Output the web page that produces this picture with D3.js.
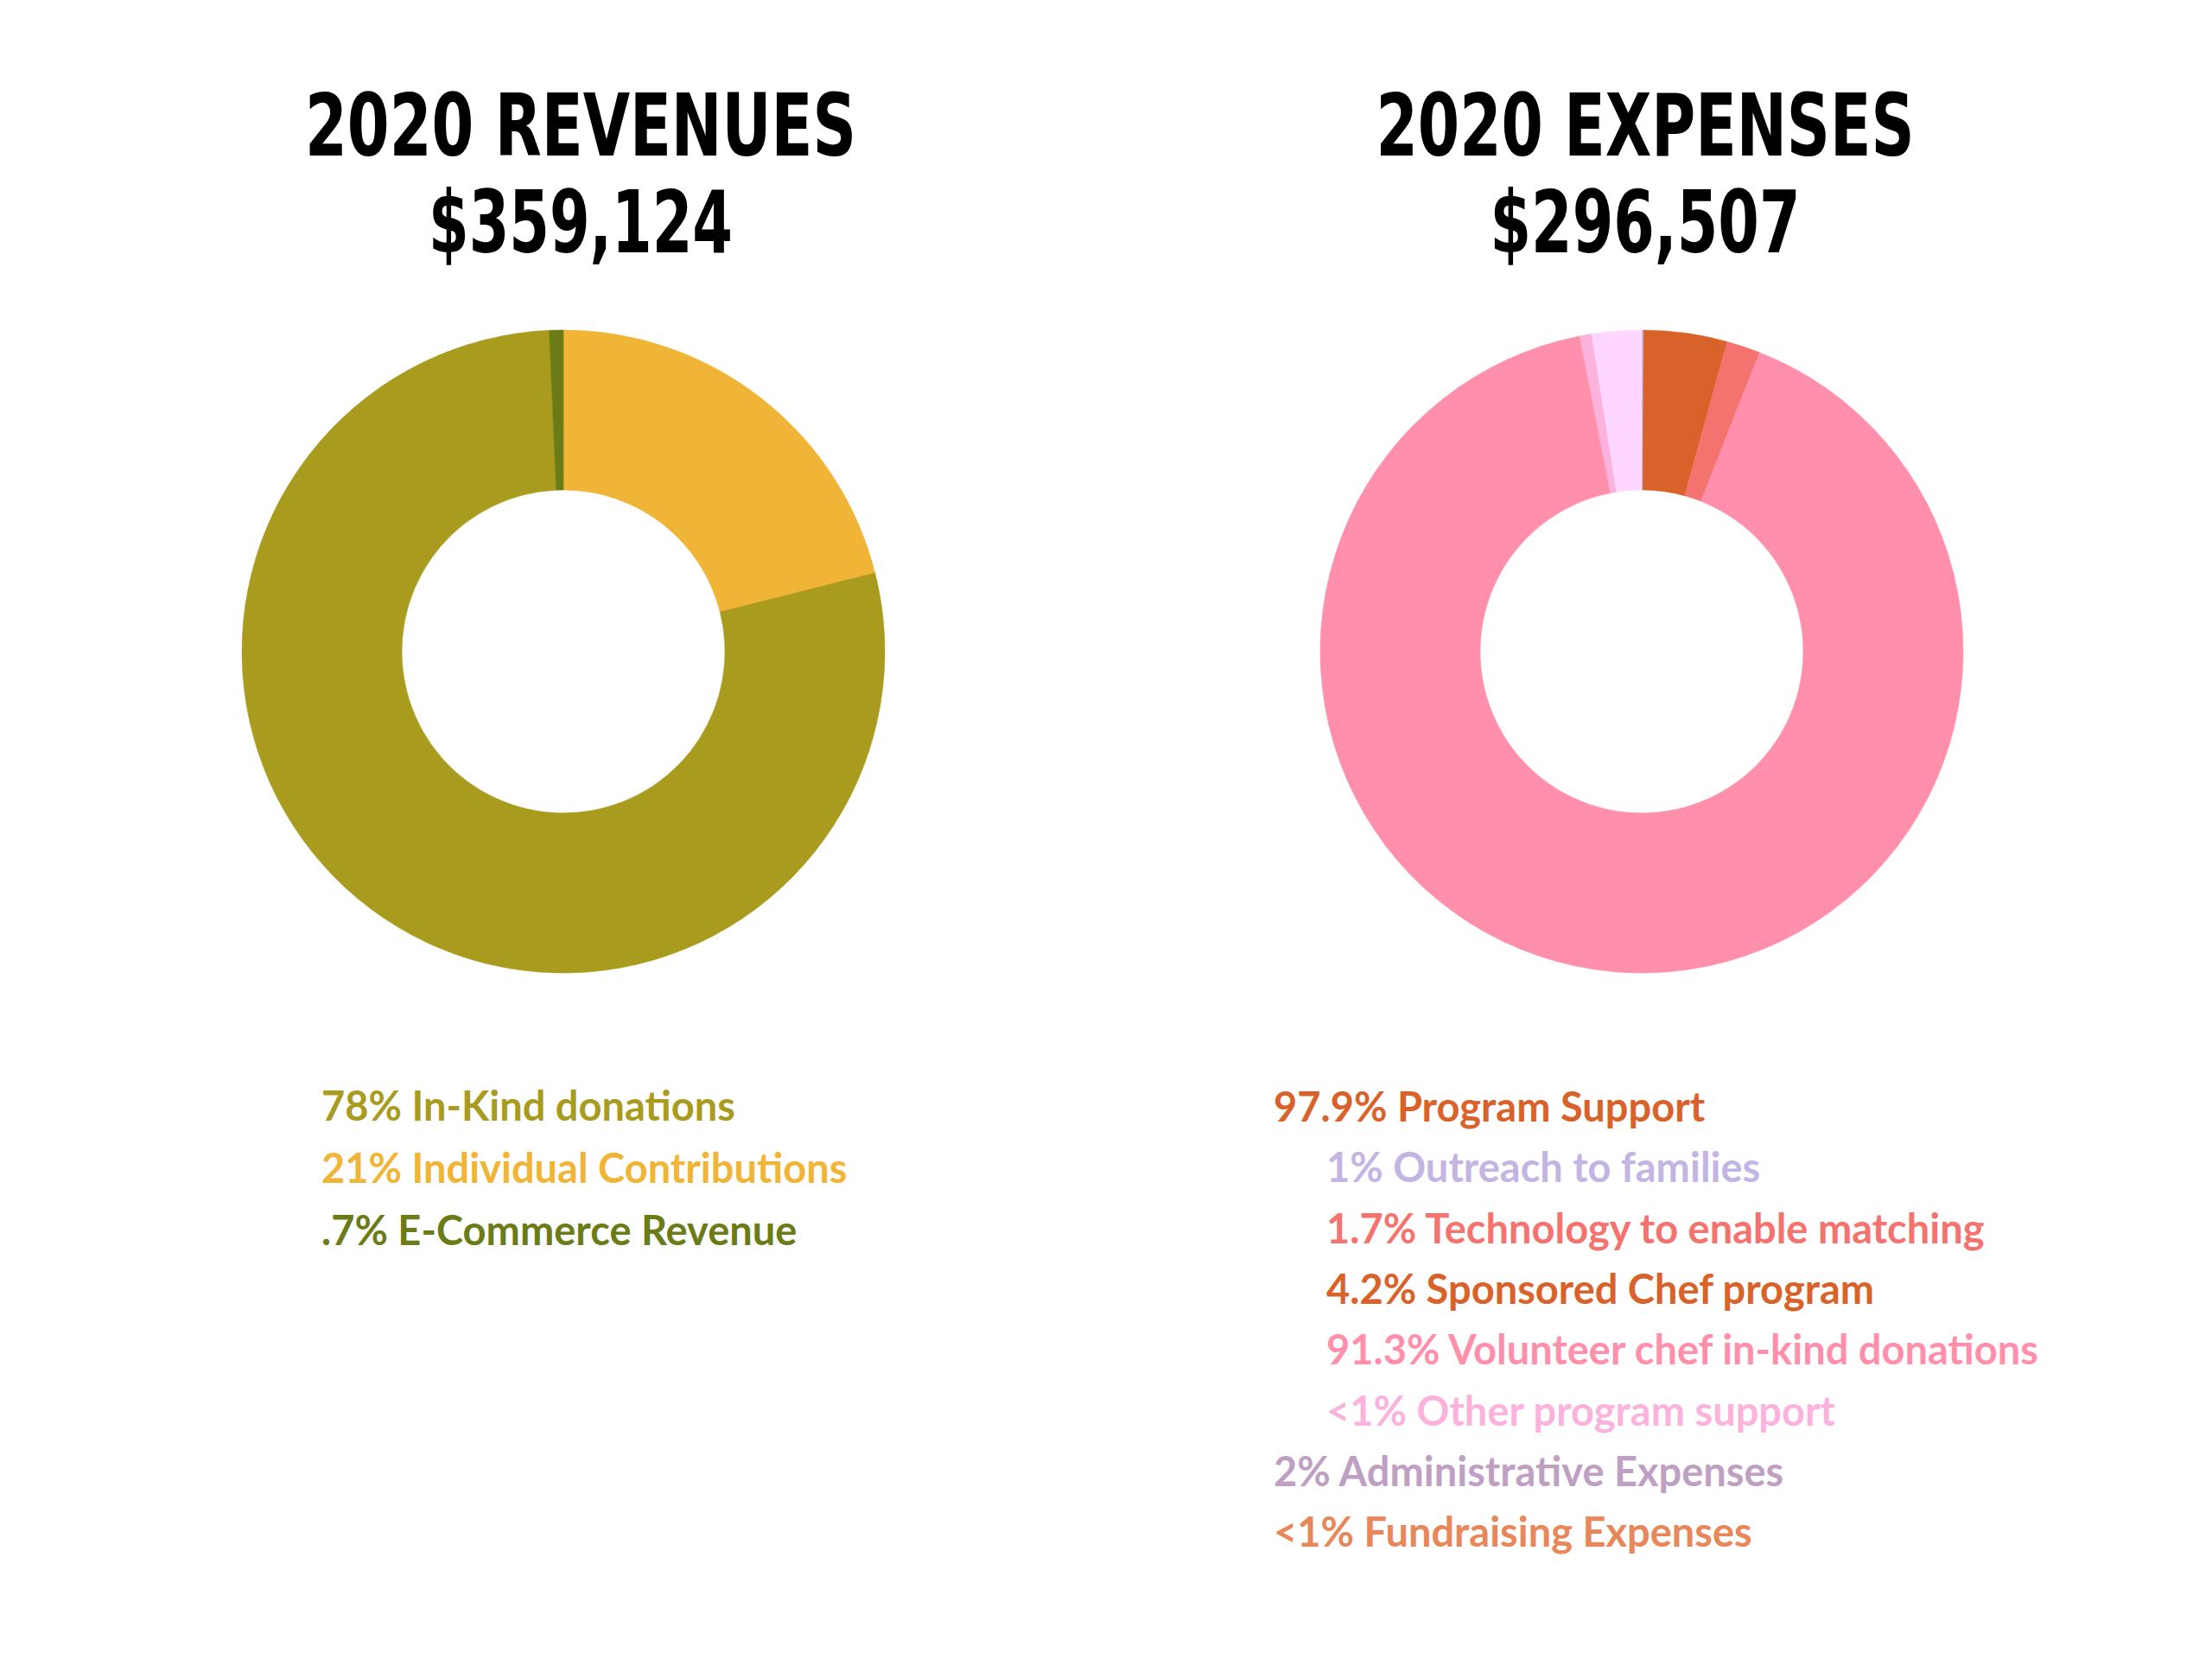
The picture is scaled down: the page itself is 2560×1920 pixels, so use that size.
<!DOCTYPE html>
<html>
<head>
<meta charset="utf-8">
<script src="https://cdn.jsdelivr.net/npm/d3@7"></script>
<style>
  html, body { margin: 0; padding: 0; background: #fff; }
  svg { display: block; }
</style>
</head>
<body>
<div class="container"></div>
<script>
"use strict";

// revenue slices, clockwise from 12 o'clock
var revSlices = ["Individual Contributions", "In-Kind donations", "E-Commerce Revenue"];
var revValues = [21, 78, 0.7];
var revColors = ["#f0b436", "#a99b1e", "#6b7c16"];

// revenue legend
var revLegend = ["78% In-Kind donations", "21% Individual Contributions", ".7% E-Commerce Revenue"];
var revLegendColors = ["#a99b1e", "#f0b436", "#6b7c16"];

// expense slices, clockwise from 12 o'clock
var expSlices = ["Outreach to families", "Sponsored Chef program", "Technology to enable matching",
	"Volunteer chef in-kind donations", "Other program support", "Administrative Expenses"];
var expValues = [0.1, 4.2, 1.7, 91.3, 0.6, 2.5];
var expColors = ["#c0b4e0", "#d9622b", "#f4736e", "#ff8fab", "#fbb2dc", "#ffd6ff"];

// expense legend
var expLegend = ["97.9% Program Support", "1% Outreach to families", "1.7% Technology to enable matching",
	"4.2% Sponsored Chef program", "91.3% Volunteer chef in-kind donations", "<1% Other program support",
	"2% Administrative Expenses", "<1% Fundraising Expenses"];
var expLegendIndent = [0, 1, 1, 1, 1, 1, 0, 0];
var expLegendColors = ["#d9622b", "#c3b5e3", "#f4736e", "#d9622b", "#ff8fab", "#fbb2dc", "#bfa0c3", "#e8875a"];

var titles = [["2020 REVENUES", "$359,124"], ["2020 EXPENSES", "$296,507"]];

var iWidth = 2560, iHeight = 1920;
var outerR = 372, innerR = 187;

var svg = d3.select(".container").append("svg")
	.attr("width", iWidth)
	.attr("height", iHeight);

var titleFont = "'DejaVu Sans Condensed', 'Liberation Sans Narrow', sans-serif";
var legendFont = "Lato, 'Open Sans', sans-serif";

function drawTitle(lines, cx, widths) {
	var g = svg.append("g").attr("transform", "translate(" + cx + ",0)");
	g.selectAll("text")
		.data(lines)
		.enter()
		.append("text")
		.attr("x", 0)
		.attr("y", function(d, i) { return i === 0 ? 180 : 292; })
		.attr("text-anchor", "middle")
		.attr("textLength", function(d, i) { return widths[i]; })
		.attr("lengthAdjust", "spacingAndGlyphs")
		.style("font-family", titleFont)
		.style("font-weight", "bold")
		.style("font-size", "99px")
		.style("fill", "#000")
		.text(function(d) { return d; });
}

function drawDonut(values, colors, cx, cy) {
	var pie = d3.pie().sort(null).value(function(d) { return d; });
	var arc = d3.arc().innerRadius(innerR).outerRadius(outerR);
	var g = svg.append("g").attr("transform", "translate(" + cx + "," + cy + ")");
	g.selectAll("path")
		.data(pie(values))
		.enter()
		.append("path")
		.attr("d", arc)
		.style("fill", function(d, i) { return colors[i]; })
		.style("stroke", function(d, i) { return colors[i]; })
		.style("stroke-width", 0.6);
}

function drawLegend(items, colors, indents, x0, y0, step, indentPx) {
	var y = d3.scaleLinear().domain([0, 1]).range([y0, y0 + step]);
	svg.append("g").selectAll("text")
		.data(items)
		.enter()
		.append("text")
		.attr("x", function(d, i) { return x0 + (indents ? indents[i] * indentPx : 0); })
		.attr("y", function(d, i) { return y(i); })
		.style("font-family", legendFont)
		.style("font-weight", "bold")
		.style("font-size", "47px")
		.style("fill", function(d, i) { return colors[i]; })
		.text(function(d) { return d; });
}

drawTitle(titles[0], 672, [638, 352]);
drawTitle(titles[1], 1904, [623, 359]);

drawDonut(revValues, revColors, 652, 754);
drawDonut(expValues, expColors, 1900, 754);

drawLegend(revLegend, revLegendColors, null, 372, 1297, 72, 0);
drawLegend(expLegend, expLegendColors, expLegendIndent, 1474, 1298, 70.3, 61);
</script>
</body>
</html>
